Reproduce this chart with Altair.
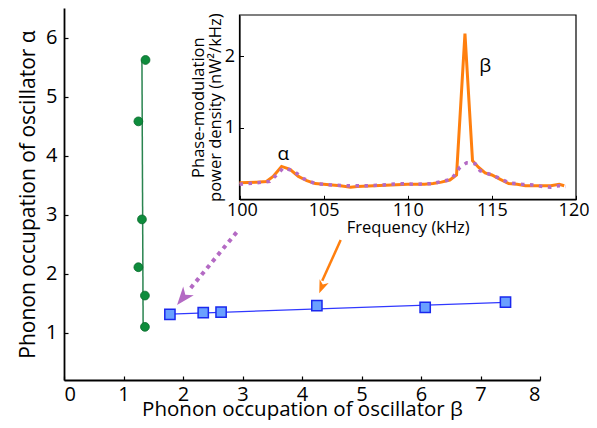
import altair as alt
import pandas as pd

# ---- main panel data ----
alpha_x = [1.37, 1.25, 1.31, 1.25, 1.36, 1.36]
alpha_y = [5.62, 4.58, 2.92, 2.11, 1.63, 1.10]
alpha_fit_x = [1.33, 1.31]
alpha_fit_y = [1.10, 5.62]

beta_x = [1.78, 2.34, 2.64, 4.25, 6.07, 7.42]
beta_y = [1.31, 1.34, 1.35, 1.46, 1.43, 1.52]
beta_fit_x = [1.78, 7.42]
beta_fit_y = [1.315, 1.515]

# arrows (start, end of shaft) and heads (tip)
purple_arrow_x = [2.90, 2.09]
purple_arrow_y = [2.70, 1.71]
purple_tip = (1.90, 1.47)
orange_arrow_x = [4.65, 4.34]
orange_arrow_y = [2.57, 1.88]
orange_tip = (4.29, 1.67)

# ---- inset data ----
freq_orange = [100, 101, 101.6, 102, 102.5, 103, 103.5, 104, 104.5, 105, 106, 106.6,
               107, 108, 109, 110, 111, 111.5, 112, 112.5, 112.9, 113.4, 113.85, 114.2,
               114.6, 115, 115.5, 116, 116.5, 117, 118, 118.5, 119, 119.3]
power_orange = [0.23, 0.24, 0.25, 0.32, 0.46, 0.42, 0.32, 0.26, 0.22, 0.21, 0.19, 0.17,
                0.18, 0.19, 0.20, 0.21, 0.21, 0.22, 0.24, 0.27, 0.34, 2.32, 0.54, 0.45,
                0.37, 0.34, 0.28, 0.22, 0.21, 0.19, 0.19, 0.19, 0.21, 0.19]
freq_purple = [100, 101, 101.8, 102.2, 102.6, 103.2, 103.8, 104.5, 105.5, 106.5, 107.5,
               108.5, 109.5, 110.5, 111.5, 112, 112.6, 113.1, 113.5, 114, 114.3, 115,
               115.5, 116, 116.8, 117.5, 118, 118.5, 119, 119.4]
power_purple = [0.21, 0.23, 0.25, 0.34, 0.44, 0.40, 0.29, 0.22, 0.20, 0.19, 0.19, 0.20,
                0.22, 0.21, 0.22, 0.25, 0.28, 0.45, 0.51, 0.50, 0.40, 0.34, 0.29, 0.23,
                0.21, 0.20, 0.18, 0.17, 0.19, 0.18]
peak_labels = ["α", "β"]
peak_label_x = [102.6, 114.6]
peak_label_y = [0.64, 1.86]

FONT = "Open Sans"
W, H = 476, 372
X_DOM = [0, 8]
Y_DOM = [0.2, 6.5]
IX_DOM = [100, 120]
IY_DOM = [0, 2.58]
IX_RANGE = [175.5, 512]
IY_RANGE = [191.3, 7]

xs = alt.Scale(domain=X_DOM, nice=False, zero=False)
ys = alt.Scale(domain=Y_DOM, nice=False, zero=False)

x_axis = alt.Axis(values=list(range(0, 9)), title="Phonon occupation of oscillator β",
                  grid=False, tickSize={"expr": "-4"}, tickColor="black", domainColor="black",
                  domainWidth=1.8, tickWidth=1.2, labelFontSize=20, titleFontSize=20.5,
                  labelPadding=8, titlePadding=-5, labelColor="black", titleColor="black",
                  labelFont=FONT, titleFont=FONT, titleFontWeight="normal")
y_axis = alt.Axis(values=[1, 2, 3, 4, 5, 6], title="Phonon occupation of oscillator α",
                  grid=False, tickSize={"expr": "-4"}, tickColor="black", domainColor="black",
                  domainWidth=1.8, tickWidth=1.2, labelFontSize=20, titleFontSize=21,
                  labelPadding=11, titlePadding=7, labelColor="black", titleColor="black",
                  labelFont=FONT, titleFont=FONT, titleFontWeight="normal")

alpha_df = pd.DataFrame({"x": alpha_x, "y": alpha_y})
alpha_fit_df = pd.DataFrame({"x": alpha_fit_x, "y": alpha_fit_y, "o": [0, 1]})
beta_df = pd.DataFrame({"x": beta_x, "y": beta_y})
beta_fit_df = pd.DataFrame({"x": beta_fit_x, "y": beta_fit_y, "o": [0, 1]})
parrow_df = pd.DataFrame({"x": purple_arrow_x, "y": purple_arrow_y, "o": [0, 1]})
oarrow_df = pd.DataFrame({"x": orange_arrow_x, "y": orange_arrow_y, "o": [0, 1]})
ptip_df = pd.DataFrame({"x": [purple_tip[0]], "y": [purple_tip[1]]})
otip_df = pd.DataFrame({"x": [orange_tip[0]], "y": [orange_tip[1]]})

HEAD = "M0,0 L0.75,2 L0,1.45 L-0.75,2 Z"

base_enc = dict(x=alt.X("x:Q", scale=xs, axis=x_axis), y=alt.Y("y:Q", scale=ys, axis=y_axis))

alpha_line = alt.Chart(alpha_fit_df).mark_line(color="#2a8450", strokeWidth=1.5).encode(
    order="o:Q", **base_enc)
alpha_pts = alt.Chart(alpha_df).mark_point(shape="circle", filled=True, fill="#0e8c3c",
                                           stroke="#0a6a2c", strokeWidth=0.8, opacity=1,
                                           size=78).encode(**base_enc)
beta_line = alt.Chart(beta_fit_df).mark_line(color="#3038ff", strokeWidth=1.2).encode(
    order="o:Q", **base_enc)
beta_pts = alt.Chart(beta_df).mark_point(shape="square", filled=True, fill="#6aa0ff",
                                         stroke="#1a28ee", strokeWidth=1.5, opacity=1,
                                         size=105).encode(**base_enc)
p_shaft = alt.Chart(parrow_df).mark_line(color="#b46ac4", strokeWidth=4,
                                          strokeDash=[4, 4.5], strokeCap="butt").encode(
    order="o:Q", **base_enc)
p_head = alt.Chart(ptip_df).mark_point(shape=HEAD, filled=True, fill="#b46ac4", opacity=1,
                                       size=330, angle=219).encode(**base_enc)
o_shaft = alt.Chart(oarrow_df).mark_line(color="#ff7f0e", strokeWidth=2.5).encode(
    order="o:Q", **base_enc)
o_head = alt.Chart(otip_df).mark_point(shape=HEAD, filled=True, fill="#ff7f0e", opacity=1,
                                       size=170, angle=202).encode(**base_enc)

main = alt.layer(alpha_line, alpha_pts, beta_line, beta_pts, p_shaft, p_head, o_shaft, o_head)

# ---- inset ----
ixs = alt.Scale(domain=IX_DOM, range=IX_RANGE, nice=False, zero=False)
iys = alt.Scale(domain=IY_DOM, range=IY_RANGE, nice=False, zero=False)
ix_axis = alt.Axis(values=[100, 105, 110, 115, 120], title="Frequency (kHz)", orient="bottom",
                   offset=IY_RANGE[0] - H, grid=False, tickSize={"expr": "-4"},
                   tickColor="black", domainColor="black", domainWidth=1.2, labelFontSize=18,
                   titleFontSize=16.5, labelPadding=6, titlePadding=0, labelColor="black",
                   titleColor="black", labelFont=FONT, titleFont=FONT,
                   titleFontWeight="normal", labelFlush=True, labelFlushOffset=13)
iy_axis = alt.Axis(values=[1, 2], title=["Phase-modulation", "power density (nW²/kHz)"],
                   orient="left", offset=-IX_RANGE[0], grid=False, tickSize={"expr": "-4"},
                   tickColor="black", domainColor="black", domainWidth=1.2, labelFontSize=18,
                   titleFontSize=16.5, labelPadding=9, titlePadding=1, labelColor="black",
                   titleColor="black", labelFont=FONT, titleFont=FONT,
                   titleFontWeight="normal", titleLineHeight=17)

orange_df = pd.DataFrame({"f": freq_orange, "p": power_orange})
purple_df = pd.DataFrame({"f": freq_purple, "p": power_purple})
lab_df = pd.DataFrame({"f": peak_label_x, "p": peak_label_y, "t": peak_labels})
frame_df = pd.DataFrame({"f": [IX_DOM[0]], "f2": [IX_DOM[1]], "p": [IY_DOM[0]], "p2": [IY_DOM[1]]})

ienc = dict(x=alt.X("f:Q", scale=ixs, axis=ix_axis), y=alt.Y("p:Q", scale=iys, axis=iy_axis))

orange_line = alt.Chart(orange_df).mark_line(color="#ff7f0e", strokeWidth=3,
                                             strokeJoin="miter").encode(**ienc)
purple_line = alt.Chart(purple_df).mark_line(color="#b46ac4", strokeWidth=3.5,
                                             strokeDash=[3.5, 5.5], strokeCap="butt").encode(**ienc)
labels = alt.Chart(lab_df).mark_text(fontSize=19, font=FONT, color="black",
                                     baseline="middle").encode(text="t:N", **ienc)
frame = alt.Chart(frame_df).mark_rect(fill="transparent", stroke="black", strokeWidth=1.2).encode(
    x=alt.X("f:Q", scale=ixs, axis=ix_axis), x2="f2:Q",
    y=alt.Y("p:Q", scale=iys, axis=iy_axis), y2="p2:Q")

inset = alt.layer(frame, orange_line, purple_line, labels)

chart = alt.layer(main, inset).resolve_scale(x="independent", y="independent").properties(
    width=W, height=H,
    autosize=alt.AutoSizeParams(type="none"),
    padding={"left": 56, "top": 0, "right": 49, "bottom": 40},
).configure(background="white", view=alt.ViewConfig(stroke="transparent"))

chart.save("out.html", embed_options={"renderer": "svg", "actions": False})
